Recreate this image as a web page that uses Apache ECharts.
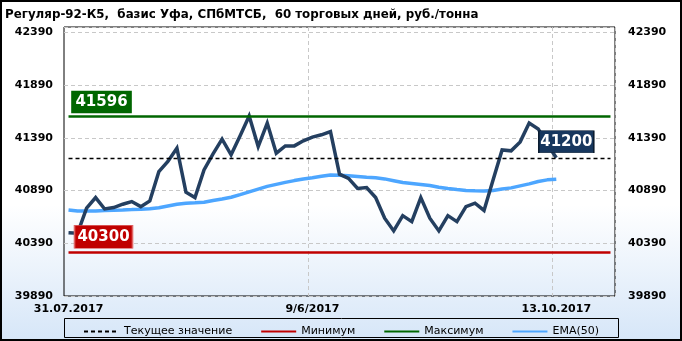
<!DOCTYPE html>
<html><head><meta charset="utf-8">
<script src="https://cdn.jsdelivr.net/npm/echarts@6/dist/echarts.min.js"></script>
<style>html,body{margin:0;padding:0;background:#fff}#c{width:682px;height:341px}</style>
</head><body><div id="c"></div>
<script>
const titleText = 'Регуляр-92-К5,  базис Уфа, СПбМТСБ,  60 торговых дней, руб./тонна';
const categories = [
 '31.07.2017','01.08.2017','02.08.2017','03.08.2017','04.08.2017',
 '07.08.2017','08.08.2017','09.08.2017','10.08.2017','11.08.2017',
 '14.08.2017','15.08.2017','16.08.2017','17.08.2017','18.08.2017',
 '21.08.2017','22.08.2017','23.08.2017','24.08.2017','25.08.2017',
 '28.08.2017','29.08.2017','30.08.2017','31.08.2017','01.09.2017',
 '04.09.2017','05.09.2017','06.09.2017','07.09.2017','08.09.2017',
 '11.09.2017','12.09.2017','13.09.2017','14.09.2017','15.09.2017',
 '18.09.2017','19.09.2017','20.09.2017','21.09.2017','22.09.2017',
 '25.09.2017','26.09.2017','27.09.2017','28.09.2017','29.09.2017',
 '02.10.2017','03.10.2017','04.10.2017','05.10.2017','06.10.2017',
 '09.10.2017','10.10.2017','11.10.2017','12.10.2017','13.10.2017',
 '16.10.2017','17.10.2017','18.10.2017','19.10.2017','20.10.2017',
 '23.10.2017'
];
const labelIndex = [0, 27, 54];
const labelText = ['31.07.2017', '9/6/2017', '13.10.2017'];
const price = [
 40490, 40485, 40722, 40823, 40715, 40728, 40760, 40785, 40737, 40791,
 41069, 41165, 41291, 40874, 40823, 41085, 41237, 41377, 41228, 41408,
 41596, 41307, 41529, 41244, 41313, 41313, 41361, 41396, 41418, 41449,
 41045, 41005, 40910, 40918, 40823, 40627, 40507, 40652, 40595, 40823,
 40627, 40507, 40652, 40595, 40737, 40770, 40701, 40990, 41275, 41266,
 41351, 41529, 41474, 41330, 41200
];
const ema50 = [
 40706, 40696, 40696, 40696, 40701, 40704, 40706, 40709, 40713, 40718,
 40727, 40744, 40760, 40770, 40774, 40779, 40795, 40810, 40826, 40851,
 40877, 40903, 40929, 40948, 40967, 40984, 41000, 41011, 41025, 41038,
 41035, 41030, 41023, 41016, 41010, 41000, 40983, 40966, 40957, 40948,
 40937, 40921, 40910, 40900, 40891, 40887, 40886, 40891, 40905, 40915,
 40934, 40953, 40976, 40991, 40997
];
const currentValue = 41200;
const minValue = 40300;
const maxValue = 41596;
const yMin = 39890, yMax = 42440, yStep = 500;
const seriesNames = ['Текущее значение', 'Минимум', 'Максимум', 'EMA(50)'];

const FONT = 'DejaVu Sans';
const lastCat = categories[categories.length - 1];
const firstCat = categories[0];
const curCat = categories[price.length - 1];

function hLine(v, color, width, type) {
  return {
    silent: true, symbol: ['none', 'none'], label: {show: false},
    lineStyle: {color: color, width: width, type: type},
    emphasis: {disabled: true},
    data: [[{coord: [firstCat, v]}, {coord: [lastCat, v]}]]
  };
}
function boxLabel(cat, v, bg, border, size, offset) {
  return {
    silent: true, symbol: 'rect', symbolSize: size, symbolOffset: offset,
    itemStyle: {color: bg, borderColor: border, borderWidth: 1},
    label: {show: true, position: 'inside', color: '#fff', fontFamily: FONT, fontWeight: 'bold', fontSize: 15},
    data: [{coord: [cat, v], value: v}]
  };
}
const yLabelStyle = {showMaxLabel: false, fontFamily: FONT, fontWeight: 'bold', fontSize: 11, color: '#000',
  formatter: (v) => String(v)};

const chart = echarts.init(document.getElementById('c'), null, {renderer: 'canvas'});
chart.setOption({
  animation: false,
  backgroundColor: {type: 'linear', x: 0, y: 0, x2: 0, y2: 1, colorStops: [
    {offset: 0, color: '#ffffff'}, {offset: 0.6, color: '#ffffff'}, {offset: 1, color: '#d6e6f8'}]},
  title: {text: titleText, left: 0, top: 4,
    textStyle: {fontFamily: FONT, fontWeight: 'bold', fontSize: 11.85, color: '#000'}},
  grid: {left: 64, right: 67, top: 27, bottom: 45, show: true, borderColor: '#000', borderWidth: 1, backgroundColor: 'transparent'},
  legend: {
    data: seriesNames, top: 321, left: 'center', itemWidth: 35, itemHeight: 12, itemGap: 28,
    itemStyle: {opacity: 0},
    textStyle: {fontFamily: FONT, fontSize: 11, color: '#000'}, selectedMode: false
  },
  xAxis: {
    type: 'category', data: categories, boundaryGap: true,
    axisLine: {show: false}, axisTick: {show: false},
    axisLabel: {
      interval: (i) => labelIndex.indexOf(i) >= 0,
      formatter: (val, i) => { const k = labelIndex.indexOf(i); return k >= 0 ? labelText[k] : ''; },
      fontFamily: FONT, fontWeight: 'bold', fontSize: 11, color: '#000', margin: 8
    },
    splitLine: {show: true, interval: (i) => i === labelIndex[1] || i === labelIndex[2],
      lineStyle: {color: '#c8c8c8', type: [4, 3], width: 1}}
  },
  yAxis: [
    Object.assign({type: 'value', min: yMin, max: yMax, interval: yStep,
      axisLine: {show: false}, axisTick: {show: false},
      axisLabel: Object.assign({margin: 11}, yLabelStyle),
      splitLine: {show: true, lineStyle: {color: '#c8c8c8', type: [4, 3], width: 1}}}),
    {type: 'value', min: yMin, max: yMax, interval: yStep, position: 'right',
      axisLine: {show: false}, axisTick: {show: false},
      axisLabel: Object.assign({margin: 13}, yLabelStyle),
      splitLine: {show: false}}
  ],
  graphic: [
    {type: 'rect', left: 64, top: 318, shape: {width: 554, height: 19}, style: {fill: 'transparent', stroke: '#000', lineWidth: 1}, silent: true},
    {type: 'rect', left: 0, top: 0, shape: {x: 1, y: 1, width: 680, height: 339}, style: {fill: 'transparent', stroke: '#000', lineWidth: 2}, silent: true, z: 100}
  ],
  series: [
    {name: 'Минимум', type: 'line', data: [], symbol: 'none', color: '#c00000',
      lineStyle: {color: '#c00000', width: 2.5},
      markLine: hLine(minValue, '#c00000', 2.5, 'solid'),
      markPoint: boxLabel(firstCat, minValue, '#c00000', '#e06666', [58, 23], [35, -16])},
    {name: 'Максимум', type: 'line', data: [], symbol: 'none', color: '#006600',
      lineStyle: {color: '#006600', width: 2.5},
      markLine: hLine(maxValue, '#006600', 2.5, 'solid'),
      markPoint: boxLabel(firstCat, maxValue, '#006600', '#006600', [59, 22], [33, -14])},
    {name: 'Текущее значение', type: 'line', data: [], symbol: 'none', color: '#000',
      lineStyle: {color: '#000', width: 1.3, type: [4, 3]},
      markLine: hLine(currentValue, '#000', 1.3, [4, 3])},
    {name: 'EMA(50)', type: 'line', data: ema50, symbol: 'none', color: '#4da6ff',
      lineStyle: {color: '#4da6ff', width: 3.5}, z: 3},
    {name: 'Цена', type: 'line', data: price, symbol: 'none', color: '#243f60',
      lineStyle: {color: '#243f60', width: 3.5, join: 'miter'}, z: 4,
      markPoint: boxLabel(curCat, currentValue, '#17375e', '#0b1c30', [55, 22], [10, -16])}
  ]
});
</script></body></html>
